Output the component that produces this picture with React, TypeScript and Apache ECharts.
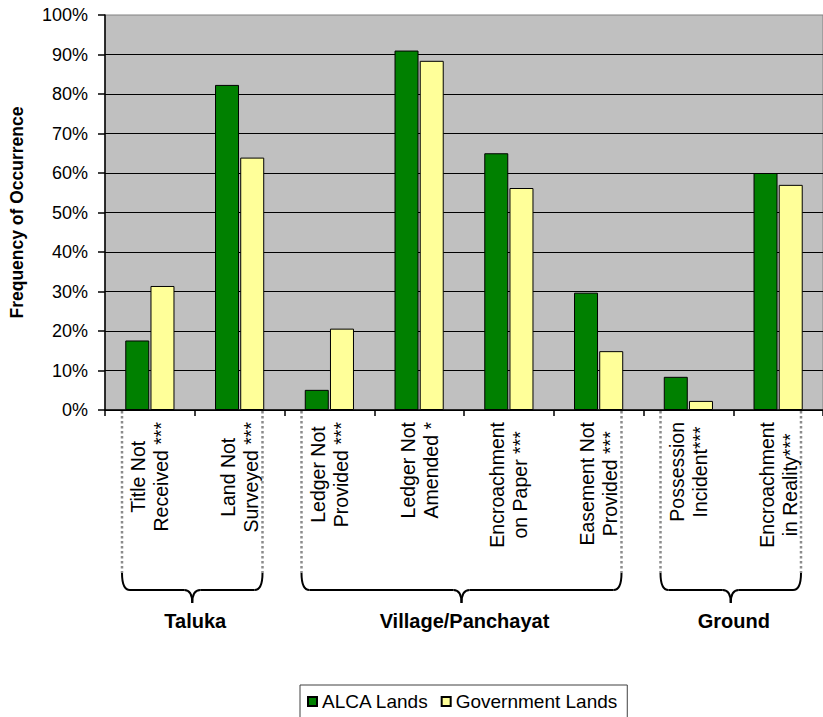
import React, { useEffect, useRef } from "react";
import * as echarts from "echarts";

// Problem categories (two-line labels) and frequency of occurrence in percent
const categories = [
  "Title Not\nReceived ***",
  "Land Not\nSurveyed ***",
  "Ledger Not\nProvided ***",
  "Ledger Not\nAmended *",
  "Encroachment\non Paper ***",
  "Easement Not\nProvided ***",
  "Possession\nIncident***",
  "Encroachment\nin Reality***",
];
const alcaLands = [17.6, 82.3, 5.1, 91.0, 65.0, 29.7, 8.4, 60.0];
const governmentLands = [31.4, 63.9, 20.6, 88.4, 56.2, 14.9, 2.3, 57.0];

// Administrative level each block of categories belongs to
const groupNames = ["Taluka", "Village/Panchayat", "Ground"];
const groupFirst = [0, 2, 6];
const groupLast = [1, 5, 7];

const FONT = '"Liberation Sans", Arial, sans-serif';

export default function App() {
  const ref = useRef<HTMLDivElement>(null);

  useEffect(() => {
    const chart = echarts.init(ref.current!, null, { renderer: "svg" });
    chart.setOption({
      animation: false,
      backgroundColor: "#ffffff",
      textStyle: { fontFamily: FONT, color: "#000" },
      grid: {
        left: 104,
        top: 15,
        width: 728,
        height: 395,
        show: true,
        backgroundColor: "#C0C0C0",
        borderColor: "#808080",
        borderWidth: 1,
      },
      legend: {
        left: 300,
        top: 685,
        padding: [7, 10, 12, 7],
        itemWidth: 9,
        itemHeight: 9,
        itemGap: 12,
        borderColor: "#404040",
        borderWidth: 1,
        icon: "rect",
        textStyle: { fontSize: 19, color: "#000", fontFamily: FONT },
        data: ["ALCA Lands", "Government Lands"],
      },
      xAxis: {
        type: "category",
        data: categories,
        axisLine: { show: true, lineStyle: { color: "#000", width: 1.5 } },
        axisTick: { show: true, interval: 0, length: 6, lineStyle: { color: "#000", width: 1.5 } },
        axisLabel: {
          interval: 0,
          rotate: 90,
          margin: 12,
          color: "#000",
          fontSize: 19.5,
          lineHeight: 23,
          formatter: (v: string) =>
            v
              .split("\n")
              .map((s) => `{c|${s}}`)
              .join("\n"),
          rich: {
            c: { align: "center", fontSize: 19.5, lineHeight: 23, fontFamily: FONT, color: "#000" },
          },
        },
        splitLine: { show: false },
      },
      yAxis: {
        type: "value",
        min: 0,
        max: 100,
        interval: 10,
        name: "Frequency of Occurrence",
        nameLocation: "middle",
        nameRotate: 90,
        nameGap: 79,
        nameTextStyle: { fontWeight: "bold", fontSize: 17.5, color: "#000", fontFamily: FONT },
        axisLine: { show: true, lineStyle: { color: "#000", width: 1.5 } },
        axisTick: { show: true, length: 7, lineStyle: { color: "#000", width: 1.5 } },
        axisLabel: {
          formatter: "{value}%",
          fontSize: 18,
          margin: 17,
          color: "#000",
        },
        splitLine: {
          show: true,
          showMaxLine: false,
          lineStyle: { color: "#000", width: 1 },
        },
      },
      series: [
        {
          name: "ALCA Lands",
          type: "bar",
          data: alcaLands,
          barWidth: 24,
          barGap: "5%",
          itemStyle: { color: "#008000", borderColor: "#000", borderWidth: 1 },
        },
        {
          name: "Government Lands",
          type: "bar",
          data: governmentLands,
          barWidth: 24,
          barGap: "5%",
          itemStyle: { color: "#FFFF99", borderColor: "#000", borderWidth: 1 },
        },
      ],
    });

    // Grouping braces under the category labels, placed from the axis scale
    const px = (i: number) => chart.convertToPixel({ xAxisIndex: 0 }, i) as number;
    const band = px(1) - px(0);
    const yBase = chart.convertToPixel({ yAxisIndex: 0 }, 0) as number;
    const yTop = yBase + 163;
    const yMid = yBase + 180;
    const yTip = yBase + 193;
    const yText = yBase + 211;
    const braceStyle = { stroke: "#000", lineWidth: 2, fill: null };
    const dotStyle = { stroke: "#8c8c8c", lineWidth: 2.5, lineDash: [2.5, 2.5] };

    const groups = groupNames.map((name, i) => {
      const xa = px(groupFirst[i]) - band / 2 + 17;
      const xb = px(groupLast[i]) + band / 2 - 22;
      const xc = (xa + xb) / 2;
      const r = 8;
      const rc = 8;
      return {
        type: "group",
        silent: true,
        children: [
          { type: "line", shape: { x1: xa, y1: yBase + 1, x2: xa, y2: yTop }, style: dotStyle },
          { type: "line", shape: { x1: xb, y1: yBase + 1, x2: xb, y2: yTop }, style: dotStyle },
          {
            type: "bezierCurve",
            shape: { x1: xa, y1: yTop, cpx1: xa, cpy1: yMid, x2: xa + r, y2: yMid },
            style: braceStyle,
          },
          { type: "line", shape: { x1: xa + r, y1: yMid, x2: xc - rc, y2: yMid }, style: braceStyle },
          {
            type: "bezierCurve",
            shape: { x1: xc - rc, y1: yMid, cpx1: xc, cpy1: yMid, x2: xc, y2: yTip },
            style: braceStyle,
          },
          {
            type: "bezierCurve",
            shape: { x1: xc + rc, y1: yMid, cpx1: xc, cpy1: yMid, x2: xc, y2: yTip },
            style: braceStyle,
          },
          { type: "line", shape: { x1: xc + rc, y1: yMid, x2: xb - r, y2: yMid }, style: braceStyle },
          {
            type: "bezierCurve",
            shape: { x1: xb - r, y1: yMid, cpx1: xb, cpy1: yMid, x2: xb, y2: yTop },
            style: braceStyle,
          },
          {
            type: "text",
            x: xc + 3,
            y: yText,
            style: {
              text: name,
              fontSize: 20,
              fontWeight: "bold",
              fontFamily: FONT,
              fill: "#000",
              align: "center",
              verticalAlign: "middle",
            },
          },
        ],
      };
    });
    chart.setOption({ graphic: groups });

    return () => chart.dispose();
  }, []);

  return (
    <div
      ref={ref}
      style={{ position: "absolute", left: 0, top: 0, width: 823, height: 717, overflow: "hidden" }}
    />
  );
}
